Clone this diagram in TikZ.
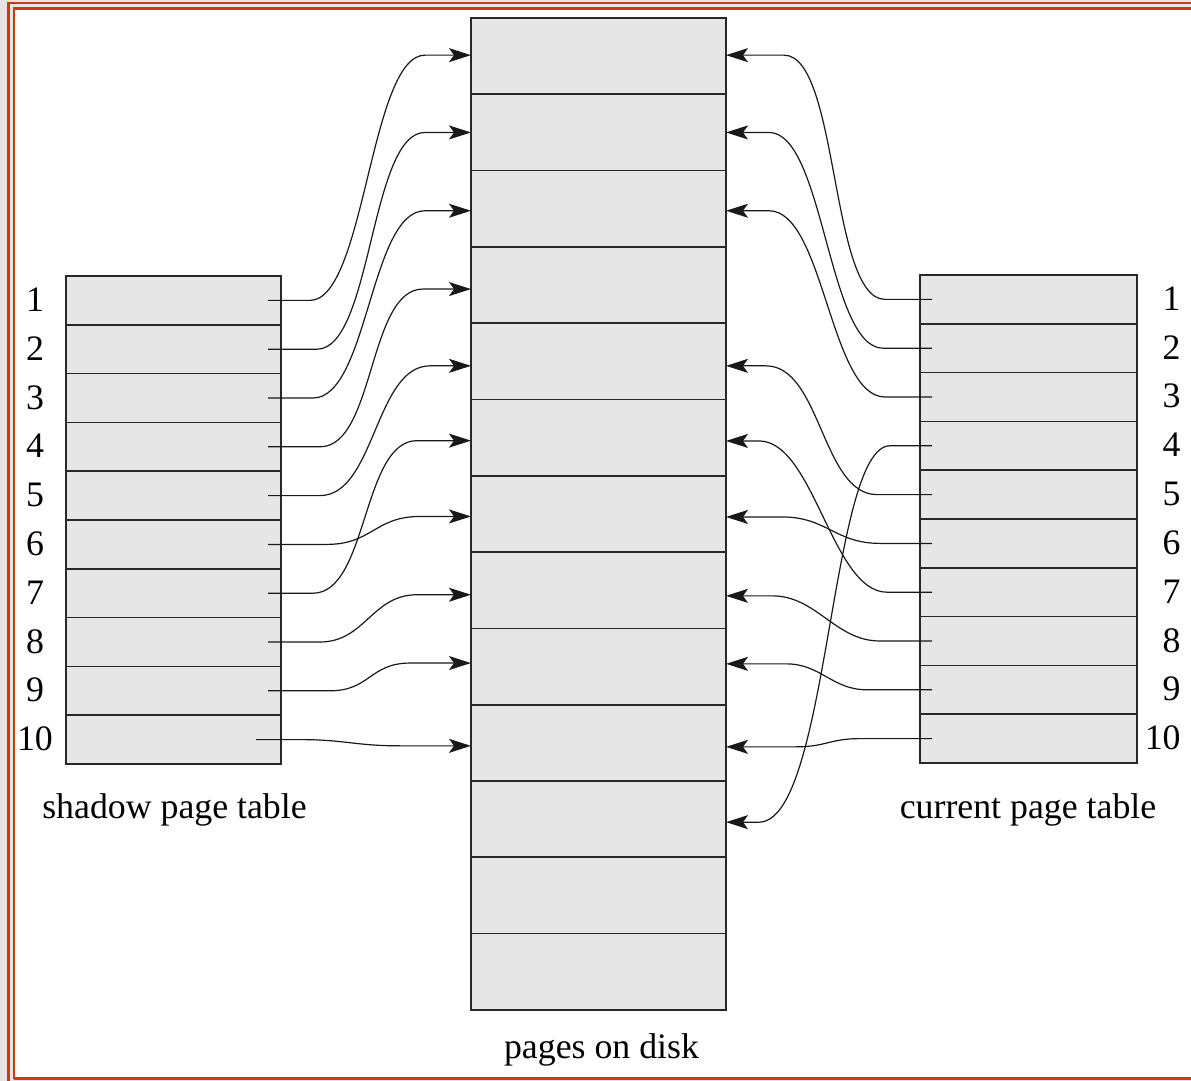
\documentclass[tikz,border=0pt]{standalone}
\usepackage{fontspec}
\setmainfont{Liberation Serif}
\usetikzlibrary{arrows.meta,calc}
\definecolor{frameorange}{RGB}{208,58,10}
\definecolor{cellgray}{RGB}{230,230,230}
\definecolor{edgegray}{RGB}{40,40,40}
\tikzset{
  cellbox/.style={fill=cellgray, inner sep=0pt, outer sep=0pt},
  rule/.style={draw=edgegray, line width=0.85pt},
  link/.style={draw=black!90, line width=0.6pt, -{Stealth[length=11pt,width=7pt,inset=2.5pt]}},
  lbl/.style={font=\fontsize{17.9}{20}\selectfont, inner sep=0pt, anchor=base},
}
\begin{document}
\begin{tikzpicture}[x=0.5pt,y=-0.5pt]
\useasboundingbox (0,0) rectangle (1191,1081);
% frame
\fill[black!10] (0,0) rectangle (1191,1081);
\fill[white] (15,10) rectangle (1191,1077);
\draw[frameorange, line width=1.4pt] (8.5,1081) -- (8.5,3) -- (1191,3);
\draw[frameorange, line width=1.3pt] (14,1078.5) -- (14,8.5) -- (1191,8.5);
\draw[frameorange, line width=1.4pt] (14,1078.5) -- (1191,1078.5);
% pages on disk
\foreach \i in {1,...,13}
  \node[cellbox, minimum width=127.5pt, minimum height=38.15pt] (d\i) at (598.5,{18+76.3*(\i-0.5)}) {};
\foreach \i in {1,...,12}
  \draw[rule] (d\i.south west) -- (d\i.south east);
\draw[rule] (d1.north west) rectangle (d13.south east);
% shadow page table
\foreach \i in {1,...,10}{
  \node[cellbox, minimum width=107.5pt, minimum height=24.4pt] (s\i) at (173.5,{276+48.8*(\i-0.5)}) {};
  \node[lbl] (sn\i) at (35,{276+48.8*(\i-0.5)+11}) {\i};
}
\foreach \i in {1,...,9}
  \draw[rule] (s\i.south west) -- (s\i.south east);
\draw[rule] (s1.north west) rectangle (s10.south east);
% current page table
\foreach \i in {1,...,10}{
  \node[cellbox, minimum width=108.5pt, minimum height=24.4pt] (c\i) at (1028.5,{275+48.8*(\i-0.5)}) {};
  \node[lbl, anchor=base east] (cn\i) at (1181,{275+48.8*(\i-0.5)+11}) {\i};
}
\foreach \i in {1,...,9}
  \draw[rule] (c\i.south west) -- (c\i.south east);
\draw[rule] (c1.north west) rectangle (c10.south east);
% labels
\node[lbl] (slabel) at (174.5,818) {shadow page table};
\node[lbl] (clabel) at (1028,818) {current page table};
\node[lbl] (dlabel) at (601.5,1058) {pages on disk};
% shadow connectors
\foreach \rw/\pg/\of/\st/\aa/\bb/\ca in {
  1/1/-1/13/42/46/55, 2/2/0/13/49/46/55, 3/3/2/13/45/46/55, 4/4/4/13/52/48/55,
  5/5/4.5/13/52/41/55, 6/7/2.5/13/59/51/45, 7/6/3/13/45/54/55, 8/8/4.5/13/52/54/45,
  9/9/-3.5/13/62/61/40, 10/10/3/25/44/71/45}
  \draw[link] ($(s\rw.east)+(-\st,0)$) -- ++(\aa,0)
     .. controls +(\ca,0) and +(-\ca,0) .. ($(d\pg.west)+(-\bb,\of)$) -- ($(d\pg.west)+(0,\of)$);
% current connectors
\foreach \rw/\pg/\of/\aa/\bb/\ca/\cb in {
  1/1/-1/47/58/55/55, 2/2/0/49/43/55/55, 3/3/2/47/43/55/55, 4/11/3/42/33/60/70,
  5/5/4.5/55/40/55/55, 6/7/3/52/56/45/45, 7/6/3.3/45/33/55/55, 8/8/5.6/52/46/45/45,
  9/9/-2.7/65/60/35/35, 10/10/4/72/70/30/30}
  \draw[link] ($(c\rw.west)+(12,0)$) -- ++(-\aa,0)
     .. controls +(-\ca,0) and +(\cb,0) .. ($(d\pg.east)+(\bb,\of)$) -- ($(d\pg.east)+(0,\of)$);
\end{tikzpicture}
\end{document}
